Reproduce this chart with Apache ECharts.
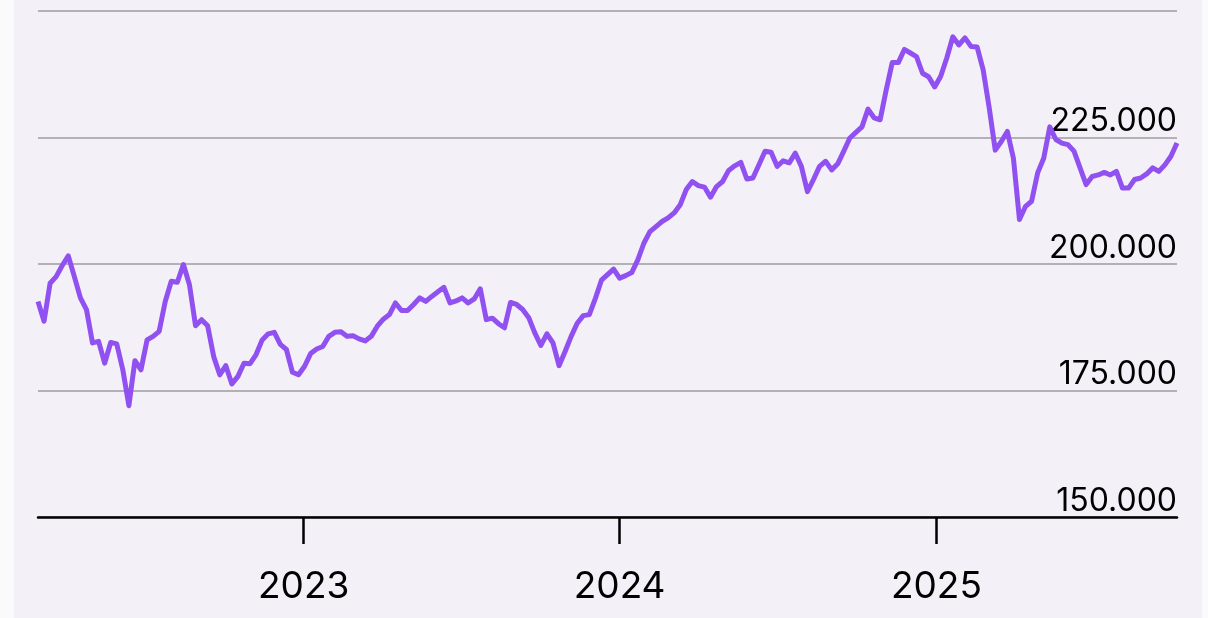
<!DOCTYPE html>
<html>
<head>
<meta charset="utf-8">
<script src="https://cdn.jsdelivr.net/npm/echarts@6/dist/echarts.min.js"></script>
<style>
html,body{margin:0;padding:0;width:1208px;height:618px;overflow:hidden;
background:linear-gradient(to right,#fafafa 0,#fafafa 14px,#f3f0f8 14px,#f3f0f8 1202px,#fafafa 1202px);}
#c{width:1208px;height:618px;}
</style>
</head>
<body>
<div id="c"></div>
<script>
// Weekly series (Mondays), first week
const startDate = '2022-02-28';
const values = [
192600,188700,196200,197500,199700,201600,197500,193300,191000,184400,
184700,180400,184500,184200,179100,172000,180900,179100,185000,185700,
186700,192600,196600,196400,199900,195900,187800,189000,187800,181700,
178100,179900,176300,177800,180400,180300,182100,185000,186200,186500,
184100,183100,178600,178100,179800,182300,183200,183700,185700,186500,
186600,185700,185800,185200,184800,185700,187700,189100,190000,192300,
190800,190800,192000,193300,192600,193600,194500,195400,192300,192700,
193300,192300,193100,195100,189000,189300,188200,187400,192400,192000,
191000,189400,186400,183900,186200,184400,179900,182700,185700,188300,
189800,190000,193200,196800,197900,199000,197200,197700,198300,200800,
204100,206400,207400,208400,209100,210100,211700,214700,216300,215500,
215200,213200,215300,216300,218500,219400,220100,216800,217000,219600,
222300,222100,219300,220400,220000,221900,219300,214300,216700,219300,
220300,218600,219800,222300,224900,226000,227100,230600,228900,228500,
234400,239800,239800,242400,241700,241000,237700,237000,235000,237100,
240700,244900,243300,244700,243000,242900,238400,230900,222500,224200,
226200,220900,208800,211400,212400,218000,220900,227100,224600,223900,
223600,222300,219000,215700,217300,217600,218100,217600,218300,215000,
215000,216700,217000,217800,219000,218300,219600,221300,223900
];
const yearTicks = ['2023-01-01','2024-01-01','2025-01-01'];
const yMin = 150000, yMax = 250000, yStep = 25000;

const DAY = 86400000;
const t0 = Date.parse(startDate + 'T00:00:00Z');
const seriesData = values.map((v, i) => [t0 + i * 7 * DAY, v]);
const tickVals = yearTicks.map(d => Date.parse(d + 'T00:00:00Z'));

const fmt = v => String(v).replace(/\B(?=(\d{3})+(?!\d))/g, '.');

const chart = echarts.init(document.getElementById('c'), null, {renderer: 'canvas'});
chart.setOption({
  backgroundColor: 'transparent',
  animation: false,
  grid: {left: 38, right: 31, top: 11, bottom: 101, containLabel: false},
  xAxis: {
    type: 'value',
    min: seriesData[0][0],
    max: seriesData[seriesData.length - 1][0],
    axisLine: {show: true, onZero: false, lineStyle: {color: '#000', width: 2.5}},
    axisTick: {show: true, customValues: tickVals, length: 27, lineStyle: {color: '#000', width: 2.5}},
    axisLabel: {
      show: true, customValues: tickVals, margin: 51,
      fontFamily: 'Inter', fontSize: 37, color: '#000',
      formatter: v => String(new Date(v).getUTCFullYear())
    },
    splitLine: {show: false}
  },
  yAxis: {
    type: 'value',
    position: 'right',
    min: yMin, max: yMax, interval: yStep,
    axisLine: {show: false},
    axisTick: {show: false},
    splitLine: {show: true, lineStyle: {color: '#b3b1b6', width: 2}},
    axisLabel: {
      inside: true, margin: 0, showMaxLabel: false,
      fontFamily: 'Inter', fontSize: 32, color: '#000',
      verticalAlign: 'bottom', padding: [0, 0, 0, 0],
      formatter: v => fmt(v)
    }
  },
  series: [{
    type: 'line',
    data: seriesData,
    showSymbol: false,
    lineStyle: {color: '#9150f0', width: 5, join: 'round'},
    z: 5
  }]
});
</script>
</body>
</html>
